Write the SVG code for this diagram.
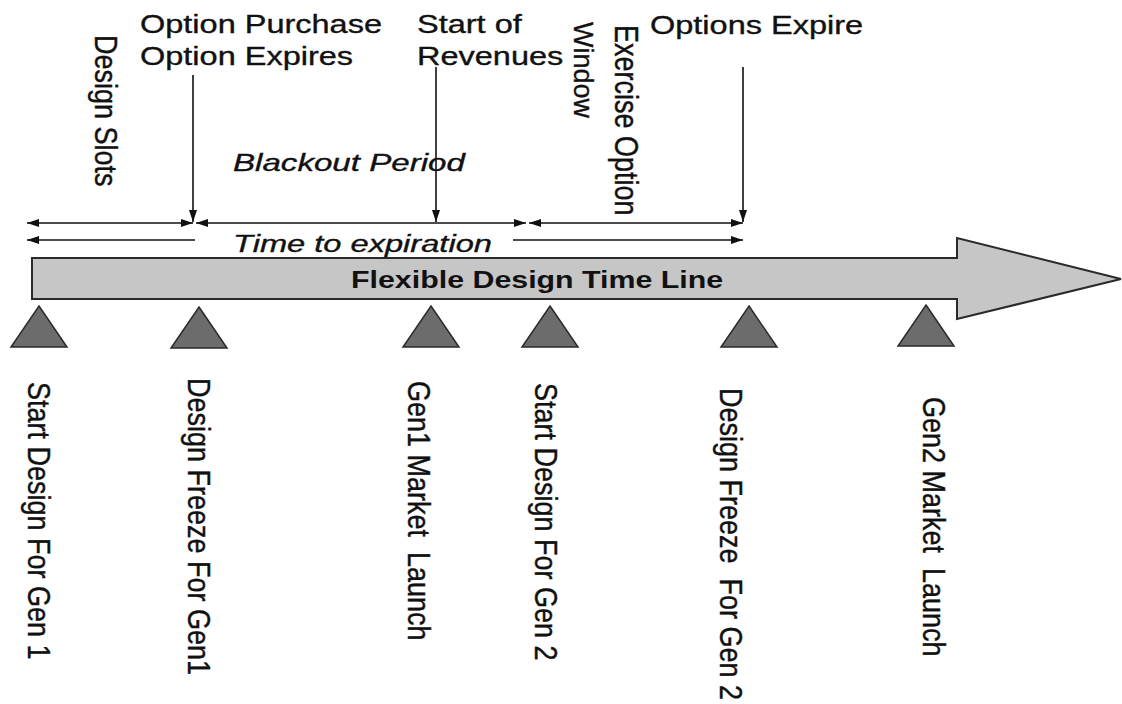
<svg xmlns="http://www.w3.org/2000/svg" width="1122" height="704" viewBox="0 0 1122 704">
<style>
.t{font-family:"Liberation Sans",Arial,sans-serif;fill:#111;stroke:#111;stroke-width:0.35;white-space:pre}
.h{font-size:25px}
.i{font-size:24px;font-style:italic}
.b{font-size:24px;font-weight:bold;stroke-width:0}
.v{font-size:27px}
.ln{stroke:#111;stroke-width:1.6;fill:none}
.tri{fill:#6c6c6c;stroke:#2a2a2a;stroke-width:1.5}
</style>
<defs>
<marker id="ah" viewBox="0 0 12 8" refX="12" refY="4" markerWidth="12" markerHeight="8" markerUnits="userSpaceOnUse" orient="auto-start-reverse">
<path d="M0,0 L12,4 L0,8 Z" fill="#111"/>
</marker>
</defs>
<rect width="1122" height="704" fill="#fff"/>

<g id="timeline">
<path d="M32,258 L957,258 L957,238 L1121,279 L957,319 L957,299 L32,299 Z" fill="#c6c6c6" stroke="#2a2a2a" stroke-width="2"/>
<text class="t b" transform="translate(351,288) scale(1.265,1)">Flexible Design Time Line</text>
</g>

<g id="annotations">
<text class="t h" transform="translate(140,33) scale(1.3,1)">Option Purchase</text>
<text class="t h" transform="translate(140,65) scale(1.3,1)">Option Expires</text>
<text class="t h" transform="translate(417,33) scale(1.3,1)">Start of</text>
<text class="t h" transform="translate(417,65) scale(1.3,1)">Revenues</text>
<text class="t h" transform="translate(650,34) scale(1.3,1)">Options Expire</text>
<text class="t i" transform="translate(233,171) scale(1.38,1)">Blackout Period</text>
<text class="t i" transform="translate(233,252) scale(1.36,1)">Time to expiration</text>
<text class="t v" transform="translate(95,35) rotate(90) scale(1,1.18)">Design Slots</text>
<text class="t v" transform="translate(574,22) rotate(90) scale(1,1.05)">Window</text>
<text class="t v" transform="translate(615,25) rotate(90) scale(1,1.2)">Exercise Option</text>
</g>

<g id="connectors">
<line class="ln" x1="27" y1="223" x2="193" y2="223" marker-start="url(#ah)" marker-end="url(#ah)"/>
<line class="ln" x1="196" y1="223" x2="526" y2="223" marker-start="url(#ah)" marker-end="url(#ah)"/>
<line class="ln" x1="529" y1="223" x2="743" y2="223" marker-start="url(#ah)" marker-end="url(#ah)"/>
<line class="ln" x1="27" y1="240" x2="195" y2="240" marker-start="url(#ah)"/>
<line class="ln" x1="513" y1="240" x2="743" y2="240" marker-end="url(#ah)"/>
<line class="ln" x1="193" y1="75" x2="193" y2="222" marker-end="url(#ah)"/>
<line class="ln" x1="436" y1="67" x2="436" y2="222" marker-end="url(#ah)"/>
<line class="ln" x1="743" y1="67" x2="743" y2="222" marker-end="url(#ah)"/>
</g>

<g id="m1">
<path class="tri" d="M39,306 L67,347 L11,347 Z"/>
<text class="t v" transform="translate(28,382) rotate(90) scale(1,1.18)">Start Design For Gen 1</text>
</g>
<g id="m2">
<path class="tri" d="M199,307 L227,348 L171,348 Z"/>
<text class="t v" transform="translate(188,378) rotate(90) scale(1,1.18)">Design Freeze For Gen1</text>
</g>
<g id="m3">
<path class="tri" d="M431,306 L459,347 L403,347 Z"/>
<text class="t v" xml:space="preserve" transform="translate(408,381) rotate(90) scale(1,1.18)">Gen1 Market  Launch</text>
</g>
<g id="m4">
<path class="tri" d="M550,306 L578,347 L522,347 Z"/>
<text class="t v" transform="translate(535,383) rotate(90) scale(1,1.18)">Start Design For Gen 2</text>
</g>
<g id="m5">
<path class="tri" d="M749,306 L777,347 L721,347 Z"/>
<text class="t v" xml:space="preserve" transform="translate(720,388) rotate(90) scale(1,1.18)">Design Freeze  For Gen 2</text>
</g>
<g id="m6">
<path class="tri" d="M926,305 L954,346 L898,346 Z"/>
<text class="t v" xml:space="preserve" transform="translate(923,397) rotate(90) scale(1,1.18)">Gen2 Market  Launch</text>
</g>
</svg>
